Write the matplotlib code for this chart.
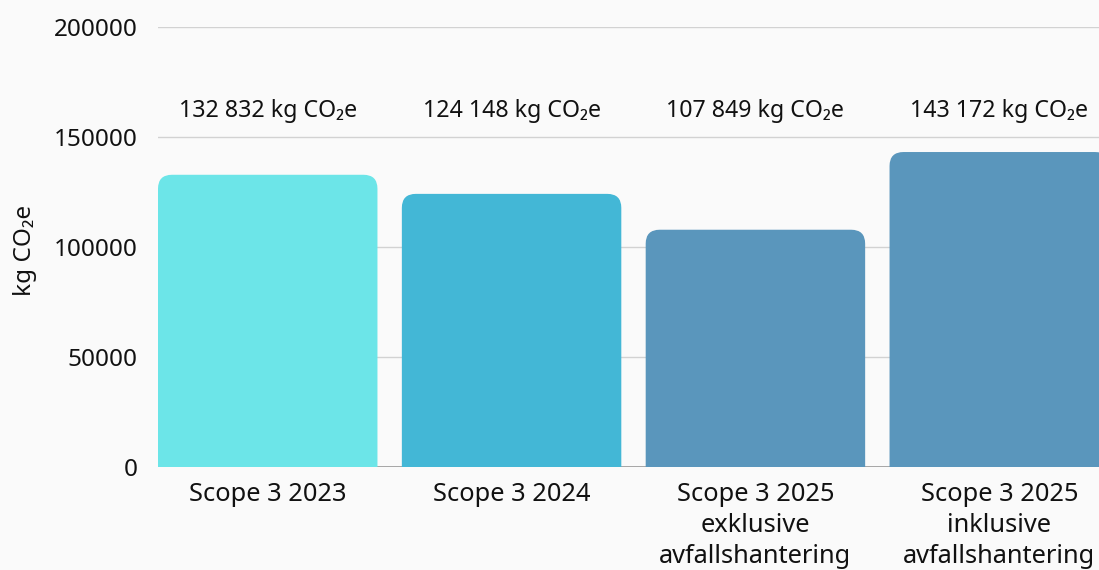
import matplotlib
matplotlib.use("Agg")
import matplotlib.pyplot as plt
from matplotlib.path import Path
from matplotlib.patches import PathPatch

categories = ["Scope 3 2023", "Scope 3 2024",
              "Scope 3 2025\nexklusive\navfallshantering",
              "Scope 3 2025\ninklusive\navfallshantering"]
values = [132832, 124148, 107849, 143172]
value_labels = ["132 832 kg CO\u2082e", "124 148 kg CO\u2082e",
                "107 849 kg CO\u2082e", "143 172 kg CO\u2082e"]
colors = ["#6ce5e8", "#43b7d6", "#5a96bc", "#5a96bc"]
yticks = [0, 50000, 100000, 150000, 200000]
ylabel = "kg CO\u2082e"

FONT = ["Noto Sans", "DejaVu Sans"]
plt.rcParams['font.family'] = FONT
BG = "#fafafa"

W, H = 1099, 570
fig = plt.figure(figsize=(W / 100, H / 100), dpi=100, facecolor=BG)
left, right, top, bottom = 158, 1109, 27, 467
ax = fig.add_axes([left / W, (H - bottom) / H, (right - left) / W, (bottom - top) / H])
ax.set_facecolor(BG)
ax.set_xlim(-0.45, 3.45)
ax.set_ylim(0, 200000)

for s in ax.spines.values():
    s.set_visible(False)

ax.set_yticks(yticks)
ax.set_yticklabels([str(v) for v in yticks])
ax.tick_params(axis='y', length=0, pad=14.5, labelsize=17.5, labelcolor='#111111')
ax.yaxis.grid(True, color='#d2d2d2', lw=1)
ax.set_axisbelow(True)
ax.axhline(0, color='#9a9a9a', lw=1.2, zorder=1)

bars = ax.bar(range(len(values)), values, width=0.9, color=colors)

# rounded top corners
px_x = (right - left) / 3.9
px_y = (bottom - top) / 200000
r = 14
for b in bars:
    x0 = b.get_x(); x1 = x0 + b.get_width(); h = b.get_height()
    rx = r / px_x; ry = r / px_y
    verts = [(x0, 0), (x0, h - ry), (x0, h), (x0 + rx, h), (x1 - rx, h),
             (x1, h), (x1, h - ry), (x1, 0), (x0, 0)]
    codes = [Path.MOVETO, Path.LINETO, Path.CURVE3, Path.CURVE3, Path.LINETO,
             Path.CURVE3, Path.CURVE3, Path.LINETO, Path.CLOSEPOLY]
    patch = PathPatch(Path(verts, codes), facecolor=b.get_facecolor(),
                      edgecolor='none', zorder=2)
    ax.add_patch(patch)
    b.set_visible(False)

for i, lab in enumerate(value_labels):
    ax.text(i, 162000, lab, ha='center', va='center', fontsize=16.7, color='#111111')

ax.set_xticks(range(len(categories)))
ax.set_xticklabels(categories, fontsize=18.3, color='#111111', linespacing=1.3)
ax.tick_params(axis='x', length=0, pad=11)

fig.text(25 / W, 1 - 250 / H, ylabel, rotation=90, ha='center', va='center',
         fontsize=17.5, color='#111111')

fig.savefig("out.png", dpi=100, facecolor=BG)
